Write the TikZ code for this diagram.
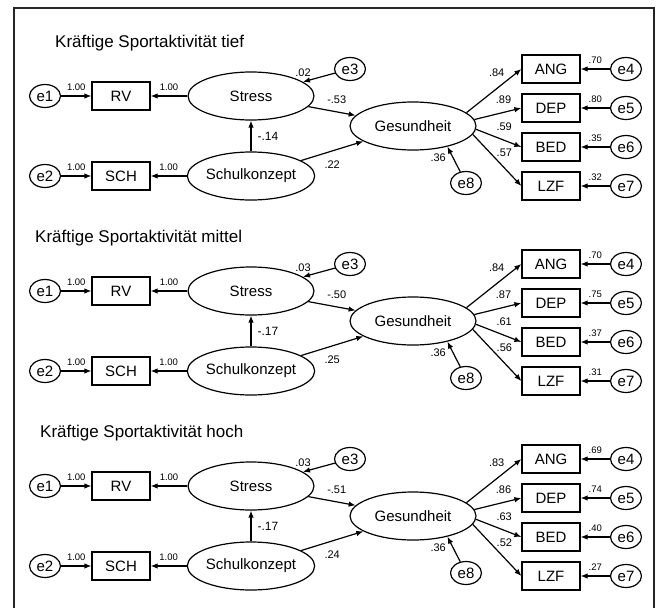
\documentclass[tikz,border=0pt]{standalone}
\usepackage{fontspec}
\setmainfont{Liberation Sans}
\usetikzlibrary{shapes.geometric,arrows.meta}

\begin{document}
\begin{tikzpicture}[x=1pt,y=-1pt]
        \tikzstyle{box} = [rectangle, draw=black, line width=1.2pt, minimum width=58pt, minimum height=28pt, inner sep=0pt, font=\fontsize{15}{18}\selectfont]
        \tikzstyle{latent} = [ellipse, draw=black, line width=1.2pt, minimum width=126pt, minimum height=48pt, inner sep=0pt, font=\fontsize{15}{18}\selectfont]
        \tikzstyle{err} = [ellipse, draw=black, line width=1.2pt, minimum width=31pt, minimum height=23pt, inner sep=0pt, font=\fontsize{15}{18}\selectfont]
        \tikzstyle{headline} = [anchor=west, inner sep=0pt, font=\fontsize{17}{20}\selectfont]
        \tikzstyle{arrow} = [line width=1.2pt,->,>={Latex[length=7pt,width=5.5pt]}]
        \tikzstyle{lbl} = [inner sep=1pt, font=\fontsize{9.5}{10}\selectfont]
        \tikzstyle{coef} = [inner sep=1pt, font=\fontsize{11}{12}\selectfont]

                \useasboundingbox (0,0) rectangle (659,608);
                \draw[line width=1.6pt, black!85] (14,608) -- (14,8) -- (654,8) -- (654,608);

                \foreach \pN/\pY/\pX/\pLvl/\pKS/\pVS/\pSG/\pKG/\pLa/\pLb/\pLc/\pLd/\pRa/\pRb/\pRc/\pRd in {
                    1/0/55/tief/-.14/.02/-.53/.22/.84/.89/.59/.57/.70/.80/.35/.32,
                    2/195/35/mittel/-.17/.03/-.50/.25/.84/.87/.61/.56/.70/.75/.37/.31,
                    3/390/40/hoch/-.17/.03/-.51/.24/.83/.86/.63/.52/.69/.74/.40/.27}
                {
                \node (head\pN) [headline] at (\pX,43+\pY) {Kräftige Sportaktivität \pLvl};

                \node (rv\pN) [box] at (121,96+\pY) {RV};
                \node (e1-\pN) [err, node distance=76pt, left of=rv\pN] {e1};
                \node (stress\pN) [latent, node distance=130pt, right of=rv\pN] {Stress};
                \node (sch\pN) [box, node distance=80pt, below of=rv\pN] {SCH};
                \node (e2-\pN) [err, node distance=76pt, left of=sch\pN] {e2};
                \node (schul\pN) [latent, node distance=130pt, right of=sch\pN] {Schulkonzept};
                \node (e3-\pN) [err, node distance=99pt, right of=stress\pN, yshift=27pt] {e3};
                \node (gesund\pN) [latent, node distance=162pt, right of=stress\pN, yshift=-30pt] {Gesundheit};
                \node (e8-\pN) [err, node distance=57pt, below of=gesund\pN, xshift=53pt] {e8};
                \node (ang\pN) [box, node distance=138pt, right of=gesund\pN, yshift=57pt] {ANG};
                \node (dep\pN) [box, node distance=39pt, below of=ang\pN] {DEP};
                \node (bed\pN) [box, node distance=39pt, below of=dep\pN] {BED};
                \node (lzf\pN) [box, node distance=39pt, below of=bed\pN] {LZF};
                \begin{scope}
                    \clip (0,0) rectangle (643,608);
                    \node (e4-\pN) [err, node distance=75pt, right of=ang\pN] {e4};
                    \node (e5-\pN) [err, node distance=75pt, right of=dep\pN] {e5};
                    \node (e6-\pN) [err, node distance=75pt, right of=bed\pN] {e6};
                    \node (e7-\pN) [err, node distance=75pt, right of=lzf\pN] {e7};
                \end{scope}

                \draw[arrow] (e1-\pN) -- node[lbl, above=4pt] {1.00} (rv\pN);
                \draw[arrow] (stress\pN) -- node[lbl, above=4pt] {1.00} (rv\pN);
                \draw[arrow] (e2-\pN) -- node[lbl, above=4pt] {1.00} (sch\pN);
                \draw[arrow] (schul\pN) -- node[lbl, above=4pt] {1.00} (sch\pN);
                \draw[arrow] (schul\pN) -- node[coef, right=5pt, font=\fontsize{12}{13}\selectfont] {\pKS} (stress\pN);
                \draw[arrow] (e3-\pN) -- node[coef, pos=1, above=4pt] {\pVS} (stress\pN);
                \draw[arrow] (stress\pN) -- node[coef, pos=0.6, above=7pt] {\pSG} (gesund\pN);
                \draw[arrow] (schul\pN) -- node[coef, midway, below=8pt] {\pKG} (gesund\pN);
                \draw[arrow] (e8-\pN) -- node[coef, pos=1, below left, yshift=-6pt] {.36} (gesund\pN.-31);
                \draw[arrow] (gesund\pN.14) -- node[coef, pos=0.55, above=10pt] {\pLa} (ang\pN.west);
                \draw[arrow] (gesund\pN.6) -- node[coef, pos=0.62, above=7pt] {\pLb} (dep\pN.west);
                \draw[arrow] (gesund\pN.-3) -- node[coef, pos=0.62, above=8pt] {\pLc} (bed\pN.west);
                \draw[arrow] (gesund\pN.-8) -- node[coef, pos=0.65, above=10pt] {\pLd} (lzf\pN.west);
                \draw[arrow] (e4-\pN) -- node[lbl, above=4pt] {\pRa} (ang\pN);
                \draw[arrow] (e5-\pN) -- node[lbl, above=4pt] {\pRb} (dep\pN);
                \draw[arrow] (e6-\pN) -- node[lbl, above=4pt] {\pRc} (bed\pN);
                \draw[arrow] (e7-\pN) -- node[lbl, above=4pt] {\pRd} (lzf\pN);
                }
    \end{tikzpicture}
\end{document}
